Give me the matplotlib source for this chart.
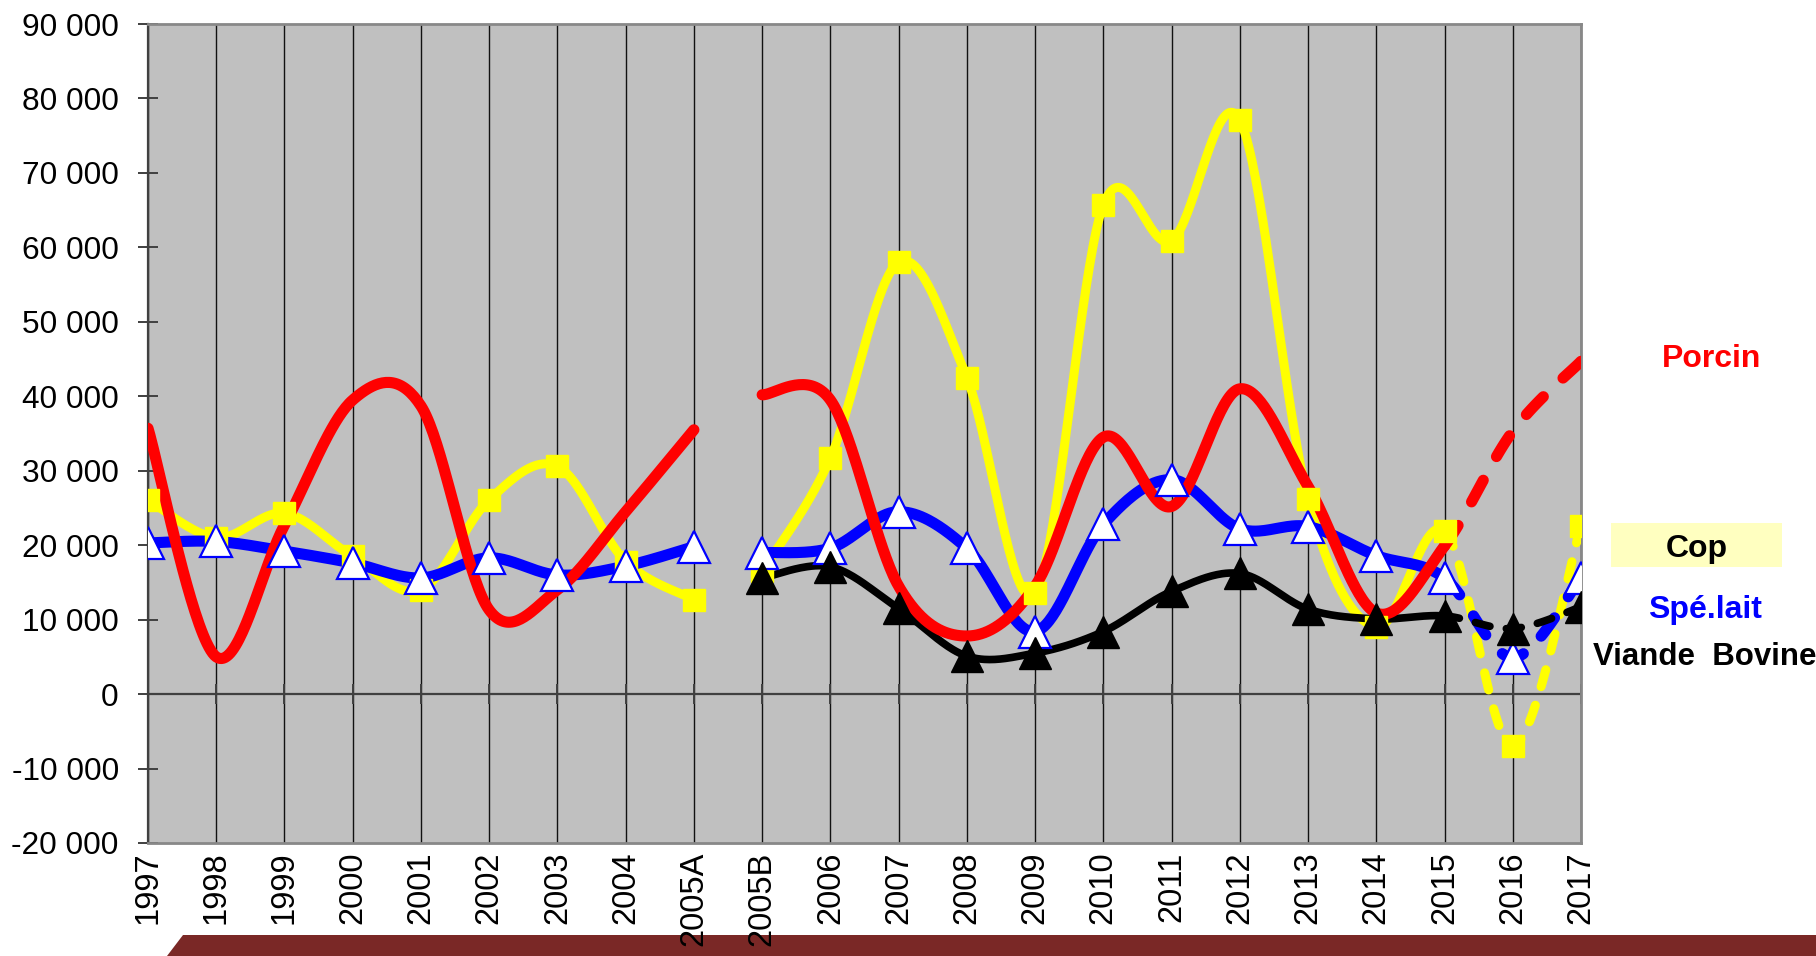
import numpy as np
import matplotlib
matplotlib.use("Agg")
import matplotlib.pyplot as plt
from matplotlib.patches import Polygon, Rectangle

plt.rcParams["font.family"] = ["Liberation Sans", "DejaVu Sans"]

# ---------------------------------------------------------------------------
# Data
# ---------------------------------------------------------------------------

years = ["1997", "1998", "1999", "2000", "2001", "2002", "2003", "2004", "2005A",
         "2005B", "2006", "2007", "2008", "2009", "2010", "2011", "2012", "2013",
         "2014", "2015", "2016", "2017"]

cop = [26100, 21000, 24300, 18500, 14000, 26100, 30600, 17800, 12700,
       16500, 31700, 58000, 42500, 13600, 65700, 60900, 77100, 26200,
       9000, 21900, -7000, 22600]

spe_lait = [20300, 20500, 19200, 17600, 15600, 18300, 16000, 17200, 19800,
            19000, 19600, 24500, 19600, 8400, 22800, 28800, 22200, 22500,
            18600, 15600, 4900, 15600]

viande_bovine = [None] * 9 + [15600, 17100, 11500, 5100, 5500, 8400, 13800,
                              16200, 11400, 10100, 10500, 8800, 11700]

porcin = [35700, 5000, 22700, 39500, 38700, 11300, 14000, 24500, 35500,
          40200, 39500, 14500, 7800, 14500, 34500, 25200, 41000, 27900,
          10900, 19900, 35300, 44700]

# segments: break between 2005A and 2005B, dashed after 2015
SEG_A = (0, 8)
SEG_B = (9, 21)
DASH_FROM = 19

# ---------------------------------------------------------------------------
# Theme
# ---------------------------------------------------------------------------

_PLOT_BG = "#c0c0c0"
_YELLOW = "#ffff00"
_BLUE = "#0000ff"
_RED = "#ff0000"
_BLACK = "#000000"
_BAR = "#7a2826"
_BOX = "#ffffc0"

W, H = 1816, 956
DPI = 100
N_PTS = 40
DASH_ON, DASH_OFF = 2.0, 2.2   # in linewidth units


def _smooth(xs, ys, n=N_PTS):
    """Excel-like smoothed line (Catmull-Rom as cubic Bezier)."""
    pts = np.column_stack([xs, ys]).astype(float)
    m = len(pts)
    out = []
    t = np.linspace(0, 1, n)[:, None]
    for i in range(m - 1):
        p0 = pts[max(i - 1, 0)]
        p1 = pts[i]
        p2 = pts[i + 1]
        p3 = pts[min(i + 2, m - 1)]
        c1 = p1 + (p2 - p0) / 6
        c2 = p2 - (p3 - p1) / 6
        seg = ((1 - t) ** 3) * p1 + 3 * ((1 - t) ** 2) * t * c1 \
            + 3 * (1 - t) * t ** 2 * c2 + t ** 3 * p2
        out.append(seg if i == 0 else seg[1:])
    return np.vstack(out)


def _fit_dashes(ax, curve, lw):
    """Stretch the dash pattern so the dashed piece ends on a dash."""
    px = ax.transData.transform(curve)
    length_pt = np.sum(np.hypot(*np.diff(px, axis=0).T)) * 72 / DPI
    on, off = DASH_ON * lw, DASH_OFF * lw
    n = max(1, round((length_pt - on) / (on + off)))
    s = length_pt / (n * (on + off) + on)
    return (DASH_ON * s, DASH_OFF * s)


def _draw_series(ax, vals, color, lw, z):
    x = np.arange(len(vals))
    # first block
    a0, a1 = SEG_A
    if vals[a0] is not None:
        c = _smooth(x[a0:a1 + 1], vals[a0:a1 + 1])
        ax.plot(c[:, 0], c[:, 1], color=color, lw=lw, zorder=z,
                solid_capstyle="round", solid_joinstyle="round")
    # second block: solid up to 2015, dashed afterwards
    b0, b1 = SEG_B
    c = _smooth(x[b0:b1 + 1], vals[b0:b1 + 1])
    k = (DASH_FROM - b0) * (N_PTS - 1)
    ax.plot(c[:k + 1, 0], c[:k + 1, 1], color=color, lw=lw, zorder=z,
            solid_capstyle="round", solid_joinstyle="round")
    tail = c[k:]
    ln, = ax.plot(tail[:, 0], tail[:, 1], color=color, lw=lw, zorder=z,
                  dashes=_fit_dashes(ax, tail, lw))
    ln.set_dash_capstyle("round")


fig = plt.figure(figsize=(W / DPI, H / DPI), dpi=DPI)
fig.patch.set_facecolor("white")

left, right, top, bottom = 148, 1581, 24, 843
ax = fig.add_axes([left / W, 1 - bottom / H, (right - left) / W, (bottom - top) / H])
ax.set_facecolor(_PLOT_BG)
ax.set_xlim(0, len(years) - 1)
ax.set_ylim(-20000, 90000)

# vertical gridlines on categories
for i in range(len(years)):
    ax.axvline(i, color="#111111", lw=1.0, zorder=1)

# zero line with its tick marks
ax.axhline(0, color="#404040", lw=1.6, zorder=1.5)
ax.plot(np.arange(len(years)), np.zeros(len(years)), ls="none", marker="|",
        ms=14, mew=1.4, color="#404040", zorder=1.5, clip_on=False)

# lines
_draw_series(ax, cop, _YELLOW, 6.5, 3)
_draw_series(ax, spe_lait, _BLUE, 8.0, 4)
_draw_series(ax, viande_bovine, _BLACK, 5.5, 5)
_draw_series(ax, porcin, _RED, 8.0, 6)

# markers
xi = np.arange(len(years))
ax.plot(xi, [np.nan if v is None else v for v in cop], ls="none", marker="s",
        ms=16.5, mfc=_YELLOW, mec=_YELLOW, mew=1, zorder=7)
ax.plot(xi, [np.nan if v is None else v for v in spe_lait], ls="none", marker="^",
        ms=23.5, mfc="white", mec=_BLUE, mew=1.6, zorder=8)
ax.plot(xi, [np.nan if v is None else v for v in viande_bovine], ls="none",
        marker="^", ms=23.5, mfc=_BLACK, mec=_BLACK, mew=1, zorder=9)

# axes styling
for s in ("top", "right", "bottom"):
    ax.spines[s].set_color("#888888")
    ax.spines[s].set_linewidth(2.0)
ax.spines["left"].set_color("#404040")
ax.spines["left"].set_linewidth(1.6)

ax.set_yticks(np.arange(-20000, 90001, 10000))
ax.set_yticklabels([f"{v:,}".replace(",", " ") for v in range(-20000, 90001, 10000)])
ax.tick_params(axis="y", direction="inout", length=14, width=1.4, color="#404040",
               labelsize=22.8, pad=14)
ax.set_xticks(xi)
ax.set_xticklabels(years, rotation=90)
ax.tick_params(axis="x", length=0, labelsize=23.5, pad=6)

# legend labels on the right
fig.text(1712 / W, 1 - 366.7 / H, "Porcin", color=_RED, fontsize=23,
         fontweight="bold", ha="center", va="baseline")
fig.add_artist(Rectangle((1611 / W, 1 - 567 / H), 171 / W, 44 / H,
                         transform=fig.transFigure, facecolor=_BOX,
                         edgecolor="none"))
fig.text(1697 / W, 1 - 556.7 / H, "Cop", color=_BLACK, fontsize=23,
         fontweight="bold", ha="center", va="baseline")
fig.text(1705 / W, 1 - 618 / H, "Spé.lait", color=_BLUE, fontsize=23,
         fontweight="bold", ha="center", va="baseline")
fig.text(1705 / W, 1 - 665 / H, "Viande  Bovine", color=_BLACK, fontsize=22.5,
         fontweight="bold", ha="center", va="baseline")

# dark red band at the bottom (behind the tick labels)
band = Polygon([(183 / W, 1 - 935 / H), (1, 1 - 935 / H), (1, 0), (167 / W, 0)],
               closed=True, transform=fig.transFigure, facecolor=_BAR,
               edgecolor="none", zorder=-1)
fig.add_artist(band)

fig.savefig("out.png", dpi=DPI, facecolor="white")
plt.close(fig)
